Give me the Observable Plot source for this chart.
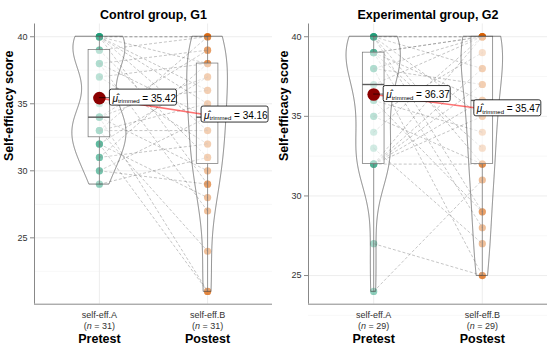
<!DOCTYPE html>
<html>
<head>
<meta charset="utf-8">
<script src="https://cdn.jsdelivr.net/npm/d3@7"></script>
<script src="https://cdn.jsdelivr.net/npm/@observablehq/plot@0.6"></script>
<style>
  html, body { margin: 0; padding: 0; background: #fff; }
  #wrap { display: flex; width: 550px; height: 350px; }
  #wrap > div { width: 275px; height: 350px; }
</style>
</head>
<body>
<div id="wrap"><div id="p1"></div><div id="p2"></div></div>
<script>
// ---- data (paired: subject i has pre[i] and post[i]) ----
const conditions = ["self-eff.A", "self-eff.B"];
const phases = ["Pretest", "Postest"];
const panelTitles = ["Control group, G1", "Experimental group, G2"];
const yLabel = "Self-efficacy score";

const g1Pre  = [40, 40, 40, 40, 40, 40, 40, 39, 39, 38, 38, 38, 37, 37, 35, 34, 34, 34, 34, 33, 33, 33, 33, 32, 32, 32, 31, 31, 30, 30, 29];
const g1Post = [38, 40, 33, 36, 29, 40, 35, 31, 40, 34, 27, 39, 32, 38, 36, 30, 37, 21, 39, 35, 24, 40, 33, 28, 37, 21, 38, 32, 34, 29, 31];

const g2Pre  = [40, 40, 40, 40, 40, 40, 39, 39, 39, 39, 39, 38, 38, 38, 37, 36, 36, 35, 35, 34, 33, 32, 32, 32, 32, 32, 32, 27, 24];
const g2Post = [40, 35, 29, 40, 38, 32, 40, 36, 28, 40, 33, 40, 25, 37, 40, 34, 29, 39, 32, 40, 27, 38, 36, 40, 35, 37, 32, 25, 31];

const yTicks = [25, 30, 35, 40];
const yMinor = [22.5, 27.5, 32.5, 37.5];
const pointColors = ["#1B9E77", "#D95F02"];
const FONT = "'Liberation Sans', Arial, Helvetica, sans-serif";

// ---- helpers ----
function trimmedMean(v, trim) {
  const s = v.slice().sort(d3.ascending), n = s.length;
  const k = Math.floor(n * trim);
  return d3.mean(s.slice(k, n - k));
}
function bwNrd0(v) {
  const s = v.slice().sort(d3.ascending);
  const iqr = d3.quantileSorted(s, 0.75) - d3.quantileSorted(s, 0.25);
  const lo = Math.min(d3.deviation(s), iqr / 1.34);
  return 0.9 * lo * Math.pow(s.length, -0.2);
}
function kde(v, bw, y) {
  let sum = 0;
  for (const x of v) { const u = (y - x) / bw; sum += Math.exp(-0.5 * u * u); }
  return sum / (v.length * bw * Math.sqrt(2 * Math.PI));
}

function labelMark(stats, offsets) {
  return (index, scales) => {
    const g = d3.create("svg:g").attr("font-family", FONT).attr("text-anchor", "start");
    stats.forEach((s, i) => {
      const px = scales.x(s.c), py = scales.y(s.tmean);
      const left = px + offsets[i];
      const w = 67, h = 16, top = py - h / 2 - 0.5;
      if (offsets[i] > 0) {
        g.append("line").attr("x1", px).attr("x2", left).attr("y1", py).attr("y2", py)
          .attr("stroke", "#000").attr("stroke-width", 0.6);
      }
      g.append("rect").attr("x", left).attr("y", top).attr("width", w).attr("height", h)
        .attr("rx", 2).attr("fill", "white").attr("stroke", "#000").attr("stroke-width", 0.8);
      const t = g.append("text").attr("x", left + 3).attr("y", top + 12.5).attr("font-size", 10).attr("fill", "#000");
      t.append("tspan").attr("font-style", "italic").text("\u03BC\u0302");
      t.append("tspan").attr("font-size", 6).attr("dy", 1.5).text("trimmed");
      t.append("tspan").attr("dy", -1.5).text(" = " + s.tmean.toFixed(2));
    });
    return g.node();
  };
}

function makePanel(pre, post, title, mLeft, labelOffsets) {
  const groups = [pre, post];
  const stats = groups.map((v, i) => {
    const s = v.slice().sort(d3.ascending);
    return {
      c: i + 1, n: s.length,
      min: s[0], max: s[s.length - 1],
      q1: d3.quantileSorted(s, 0.25), med: d3.quantileSorted(s, 0.5), q3: d3.quantileSorted(s, 0.75),
      tmean: trimmedMean(s, 0.2)
    };
  });
  const all = pre.concat(post);
  const [lo, hi] = d3.extent(all);
  const pad = 0.05 * (hi - lo);

  const dens = groups.map((v, i) => {
    const bw = bwNrd0(v);
    const [a, b] = d3.extent(v);
    return d3.range(512).map(k => { const y = a + k * (b - a) / 511; return {g: i, y, d: kde(v, bw, y)}; });
  });
  const maxD = d3.max(dens.flat(), r => r.d);
  const violin = dens.flat().map(r => ({g: r.g, y: r.y, x1: r.g + 1 - 0.25 * r.d / maxD, x2: r.g + 1 + 0.25 * r.d / maxD}));

  const pairs = pre.map((p, i) => ({pre: p, post: post[i]}));
  const means = stats.map(s => ({x: s.c, y: s.tmean}));

  const svg = Plot.plot({
    width: 275, height: 350,
    marginLeft: mLeft, marginRight: 3, marginTop: 23.5, marginBottom: 46.3,
    x: {domain: [0.4, 2.6]},
    y: {domain: [lo - pad, hi + pad]},
    style: {fontFamily: FONT, background: "white", overflow: "visible"},
    marks: [
      Plot.gridY(yMinor, {stroke: "#f2f2f2", strokeOpacity: 1, strokeWidth: 0.6}),
      Plot.gridY(yTicks, {stroke: "#e8e8e8", strokeOpacity: 1, strokeWidth: 0.8}),
      Plot.gridX([1, 2], {stroke: "#e8e8e8", strokeOpacity: 1, strokeWidth: 0.8}),
      Plot.dot(pre, {x: 1, y: d => d, r: 3.6, fill: pointColors[0], fillOpacity: 0.5}),
      Plot.dot(post, {x: 2, y: d => d, r: 3.6, fill: pointColors[1], fillOpacity: 0.5}),
      Plot.link(pairs, {x1: 1, y1: "pre", x2: 2, y2: "post", stroke: "#666", strokeOpacity: 0.55, strokeWidth: 0.7, strokeDasharray: "3,2"}),
      Plot.ruleX(stats, {x: "c", y1: "q3", y2: "max", stroke: "#4d4d4d", strokeWidth: 0.7}),
      Plot.ruleX(stats, {x: "c", y1: "min", y2: "q1", stroke: "#4d4d4d", strokeWidth: 0.7}),
      Plot.rect(stats, {x1: d => d.c - 0.1, x2: d => d.c + 0.1, y1: "q1", y2: "q3", fill: "white", fillOpacity: 0.5, stroke: "#4d4d4d", strokeWidth: 0.7}),
      Plot.ruleY(stats, {y: "med", x1: d => d.c - 0.1, x2: d => d.c + 0.1, stroke: "#333", strokeWidth: 1.4}),
      Plot.areaX(violin, {y: "y", x1: "x1", x2: "x2", z: "g", fill: "white", fillOpacity: 0.2, stroke: "#4d4d4d", strokeWidth: 0.7}),
      Plot.ruleX([0.4], {stroke: "#888", strokeWidth: 1}),
      Plot.ruleY([lo - pad], {stroke: "#888", strokeWidth: 1}),
      Plot.line(means, {x: "x", y: "y", stroke: "red", strokeOpacity: 0.55, strokeWidth: 1.6}),
      Plot.dot(means, {x: "x", y: "y", r: 6.3, fill: "#8B0000"}),
      labelMark(stats, labelOffsets),
      Plot.axisY(yTicks, {tickSize: 4, tickPadding: 3, fontSize: 9, stroke: "#888", fill: "#333", label: null}),
      Plot.axisX([1, 2], {tickSize: 0, tickPadding: 6, fontSize: 9, lineHeight: 1.2, fill: "#333", label: null,
        tickFormat: i => `${conditions[i - 1]}\n(n = ${stats[i - 1].n})`}),
      Plot.axisX([1, 2], {tickSize: 0, tickPadding: 30.4, fontSize: 12.5, fontWeight: "bold", fill: "#000", label: null,
        tickFormat: i => phases[i - 1]}),
      Plot.text([title], {frameAnchor: "top", dy: -13.5, fontSize: 12.5, fontWeight: "bold", fill: "#000"}),
      Plot.text([yLabel], {frameAnchor: "left", dx: -mLeft + 8, dy: -3, rotate: -90, fontSize: 12.5, fontWeight: "bold", fill: "#000"})
    ]
  });

  // italic "n" in the sample-size lines
  d3.select(svg).selectAll("tspan").each(function () {
    const m = /^\(n = (\d+)\)$/.exec(this.textContent);
    if (m) {
      const s = d3.select(this);
      s.text("(");
      s.append("tspan").attr("font-style", "italic").text("n");
      this.appendChild(document.createTextNode(` = ${m[1]})`));
    }
  });
  return svg;
}

document.getElementById("p1").appendChild(makePanel(g1Pre, g1Post, panelTitles[0], 34, [10.5, -6]));
document.getElementById("p2").appendChild(makePanel(g2Pre, g2Post, panelTitles[1], 33, [10, -8]));
</script>
</body>
</html>
